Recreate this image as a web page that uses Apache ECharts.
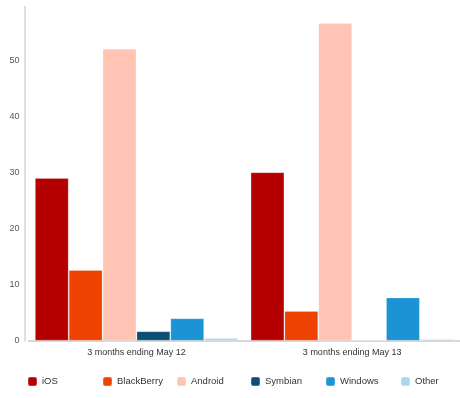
<!DOCTYPE html>
<html>
<head>
<meta charset="utf-8">
<script src="https://cdn.jsdelivr.net/npm/echarts@6/dist/echarts.min.js"></script>
<style>
  html, body { margin: 0; padding: 0; background: #fff; }
  #main { width: 460px; height: 398px; }
</style>
</head>
<body>
<div id="main"></div>
<script>
var categories = ['3 months ending May 12', '3 months ending May 13'];
var seriesNames = ['iOS', 'BlackBerry', 'Android', 'Symbian', 'Windows', 'Other'];
var iosValues = [29.0, 30.0];
var blackberryValues = [12.6, 5.3];
var androidValues = [52.0, 56.6];
var symbianValues = [1.7, 0];
var windowsValues = [4.0, 7.7];
var otherValues = [0.5, 0.3];
var colors = ['#b40000', '#ee4300', '#ffc4b3', '#0b4f73', '#1b93d5', '#a8d8f1'];
var legendLeft = [27, 102, 176, 250, 325, 400];

var chartDom = document.getElementById('main');
var myChart = echarts.init(chartDom);
var option;

var values = [iosValues, blackberryValues, androidValues, symbianValues, windowsValues, otherValues];
var font = 'Liberation Sans';

option = {
    animation: false,
    color: colors,
    grid: {
        left: 28.6,
        top: 6.7,
        width: 435.4,
        bottom: 57.3
    },
    legend: seriesNames.map(function (name, i) {
        return {
            data: [name],
            left: legendLeft[i],
            top: 376,
            padding: 0,
            icon: 'roundRect',
            itemWidth: 9,
            itemHeight: 9,
            textStyle: { fontFamily: font, fontSize: 9.5, color: '#333' }
        };
    }),
    xAxis: {
        type: 'category',
        data: categories,
        offset: 3,
        axisLine: { lineStyle: { color: '#d8d8d8', width: 2 } },
        axisTick: { show: false },
        axisLabel: { fontFamily: font, fontSize: 9, color: '#333', margin: 4 }
    },
    yAxis: {
        type: 'value',
        min: 0,
        max: 59.5,
        interval: 10,
        offset: 4,
        splitLine: { show: false },
        axisLine: { show: true, lineStyle: { color: '#e0e0e0', width: 2 } },
        axisLabel: { fontFamily: font, fontSize: 9, color: '#555', margin: 5, showMaxLabel: false }
    },
    series: seriesNames.map(function (name, i) {
        return {
            name: name,
            type: 'bar',
            data: values[i],
            barGap: '0%',
            barCategoryGap: '5.8%',
            itemStyle: { borderColor: 'rgba(255,255,255,0.2)', borderWidth: 1 }
        };
    })
};

option && myChart.setOption(option);
</script>
</body>
</html>
